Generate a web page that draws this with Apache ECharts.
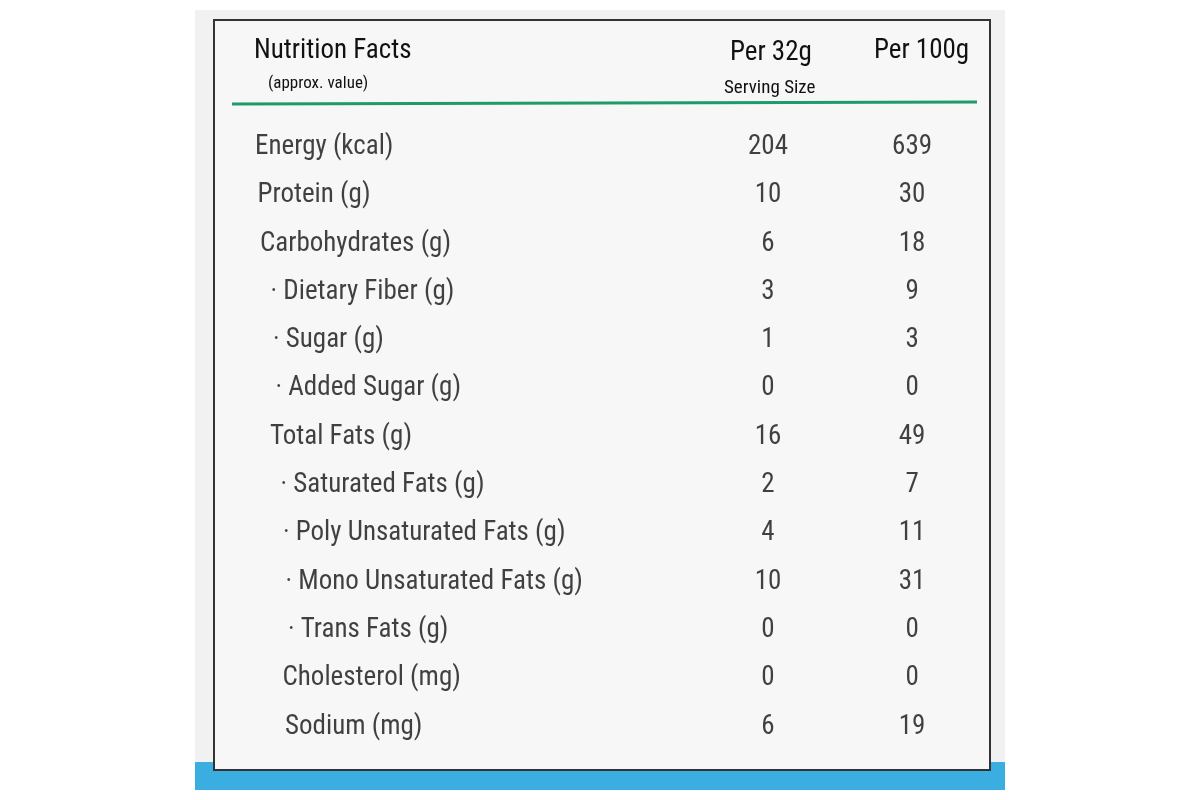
<!DOCTYPE html>
<html><head><meta charset="utf-8">
<script src="https://cdn.jsdelivr.net/npm/echarts@6/dist/echarts.min.js"></script>
<style>html,body{margin:0;background:#fff}#c{width:1200px;height:800px}</style>
</head><body><div id="c"></div>
<script>
const nutrients = ['Energy (kcal)','Protein (g)','Carbohydrates (g)','· Dietary Fiber (g)','· Sugar (g)','· Added Sugar (g)','Total Fats (g)','· Saturated Fats (g)','· Poly Unsaturated Fats (g)','· Mono Unsaturated Fats (g)','· Trans Fats (g)','Cholesterol (mg)','Sodium (mg)'];
const per32g = [204,10,6,3,1,0,16,2,4,10,0,0,6];
const per100g = [639,30,18,9,3,0,49,7,11,31,0,0,19];
const headers = ['Nutrition Facts','(approx. value)','Per 32g','Serving Size','Per 100g'];

const FONT = '"Liberation Sans Narrow","Roboto Condensed","Liberation Sans",sans-serif';
const chart = echarts.init(document.getElementById('c'));
const nameData = nutrients.map((n,i)=>({value:[0,i],
  label:{padding:[0,0,0,(i*2.5)+(n.startsWith('·')?8:0)]}}));
const lbl = {show:true,position:'inside',color:'#111',fontFamily:FONT,fontSize:27};
chart.setOption({
  backgroundColor:'#fff',
  graphic:[
    {type:'rect',shape:{x:195,y:10,width:810,height:780},style:{fill:'#f1f1f1'},z:-10},
    {type:'rect',shape:{x:195,y:762,width:810,height:28},style:{fill:'#3aaee0'},z:-9},
    {type:'rect',shape:{x:214,y:20,width:776,height:750},style:{fill:'#f7f7f7',stroke:'#333',lineWidth:2},z:-8},
    {type:'line',shape:{x1:232,y1:104,x2:977,y2:102},style:{stroke:'#1f9a6a',lineWidth:3}},
    {type:'text',left:254,top:38,style:{text:headers[0],font:'27px '+FONT,fill:'#111'}},
    {type:'text',left:268,top:75,style:{text:headers[1],font:'17px '+FONT,fill:'#111'}},
    {type:'text',left:730,top:40,style:{text:headers[2],font:'27px '+FONT,fill:'#111'}},
    {type:'text',left:724,top:79,style:{text:headers[3],font:'19px '+FONT,fill:'#111'}},
    {type:'text',left:874,top:38,style:{text:headers[4],font:'27px '+FONT,fill:'#111'}}
  ],
  grid:{left:255,right:210,top:123,bottom:49},
  xAxis:{type:'value',min:0,max:100,show:false},
  yAxis:{type:'category',inverse:true,data:nutrients,show:false},
  series:[
    {type:'scatter',symbolSize:0,data:nameData,
     label:Object.assign({},lbl,{position:'right',distance:0,formatter:p=>nutrients[p.dataIndex]}),silent:true},
    {type:'scatter',symbolSize:0,data:per32g.map((v,i)=>[69.8,i,v]),
     label:Object.assign({},lbl,{formatter:p=>p.value[2]}),silent:true},
    {type:'scatter',symbolSize:0,data:per100g.map((v,i)=>[89.4,i,v]),
     label:Object.assign({},lbl,{formatter:p=>p.value[2]}),silent:true}
  ]
});
</script></body></html>
